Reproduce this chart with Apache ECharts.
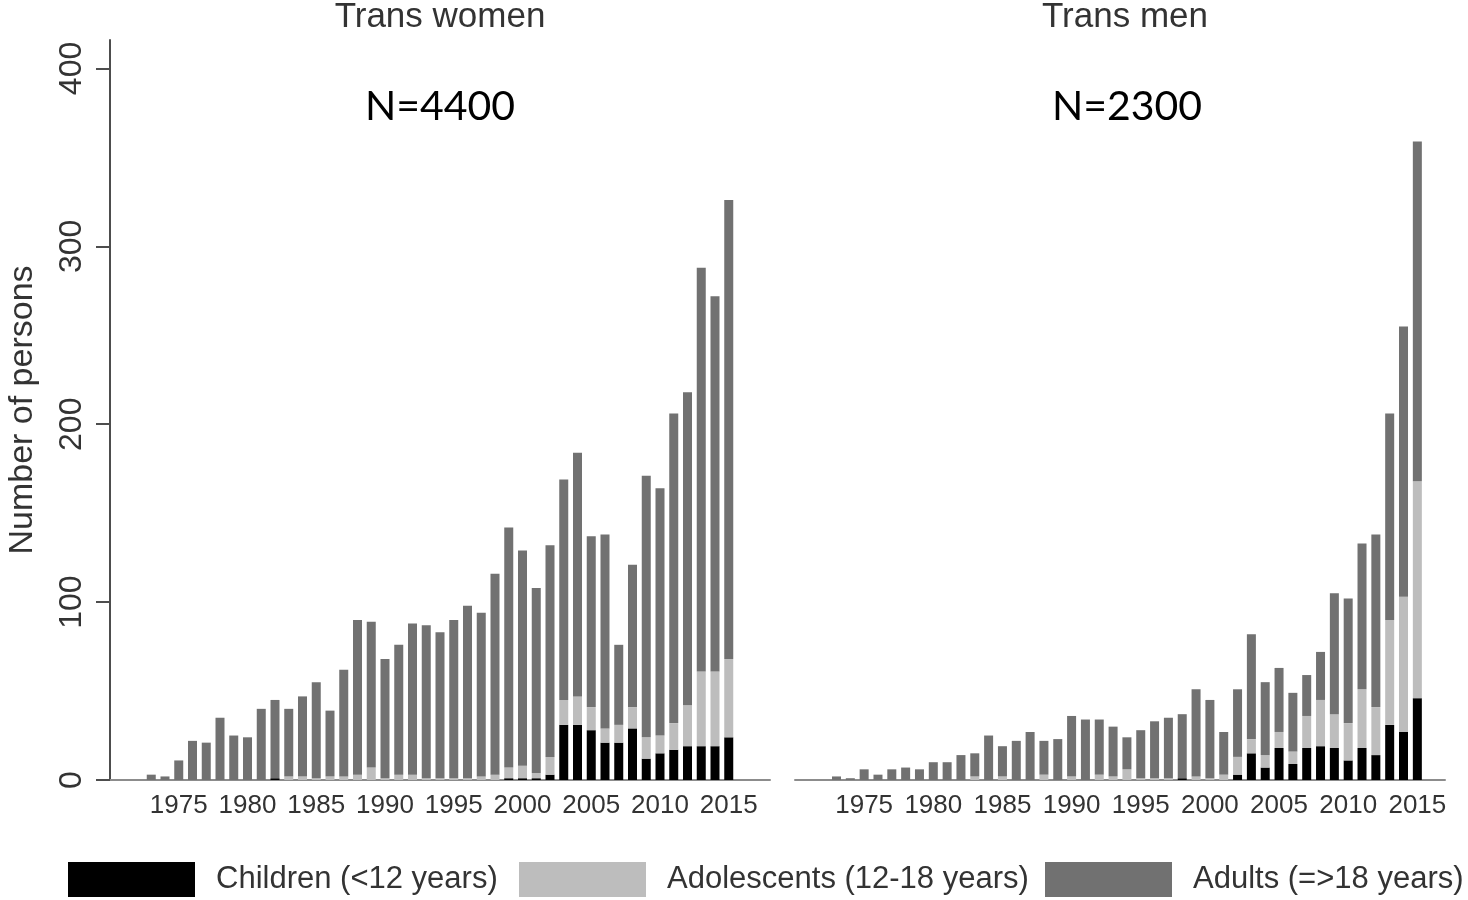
<!DOCTYPE html>
<html>
<head>
<meta charset="utf-8">
<script src="https://cdn.jsdelivr.net/npm/echarts@6/dist/echarts.min.js"></script>
<style>
  html, body { margin: 0; padding: 0; background: #fff; }
  #chart { width: 1468px; height: 900px; }
</style>
</head>
<body>
<div id="chart"></div>
<script>
// Years shown along each x axis (bars only exist from 1973 on)
const axisYears = ['1970', '1971', '1972', '1973', '1974', '1975', '1976', '1977', '1978', '1979',
  '1980', '1981', '1982', '1983', '1984', '1985', '1986', '1987', '1988', '1989',
  '1990', '1991', '1992', '1993', '1994', '1995', '1996', '1997', '1998', '1999',
  '2000', '2001', '2002', '2003', '2004', '2005', '2006', '2007', '2008', '2009',
  '2010', '2011', '2012', '2013', '2014', '2015', '2016', '2017', '2018'];

// Registration year of each bar
const years = ['1973', '1974', '1975', '1976', '1977', '1978', '1979', '1980', '1981', '1982',
  '1983', '1984', '1985', '1986', '1987', '1988', '1989', '1990', '1991', '1992',
  '1993', '1994', '1995', '1996', '1997', '1998', '1999', '2000', '2001', '2002',
  '2003', '2004', '2005', '2006', '2007', '2008', '2009', '2010', '2011', '2012',
  '2013', '2014', '2015'];

// Trans women, persons per year by age group
const womenChildren = [0, 0, 0, 0, 0, 0, 0, 0, 0, 1,
  0, 0, 0, 0, 0, 0, 0, 0, 0, 0,
  0, 0, 0, 0, 0, 0, 1, 1, 1, 3,
  31, 31, 28, 21, 21, 29, 12, 15, 17, 19,
  19, 19, 24];
const womenAdolescents = [0, 0, 0, 0, 0, 0, 0, 0, 0, 0,
  2, 2, 1, 2, 2, 3, 7, 1, 3, 3,
  1, 1, 1, 1, 2, 3, 6, 7, 3, 10,
  14, 16, 13, 8, 10, 12, 12, 10, 15, 23,
  42, 42, 44];
const womenAdults = [3, 2, 11, 22, 21, 35, 25, 24, 40, 44,
  38, 45, 54, 37, 60, 87, 82, 67, 73, 85,
  86, 82, 89, 97, 92, 113, 135, 121, 104, 119,
  124, 137, 96, 109, 45, 80, 147, 139, 174, 176,
  227, 211, 258];

// Trans men, persons per year by age group
const menChildren = [0, 0, 0, 0, 0, 0, 0, 0, 0, 0,
  0, 0, 0, 0, 0, 0, 0, 0, 0, 0,
  0, 0, 0, 0, 0, 1, 0, 0, 0, 3,
  15, 7, 18, 9, 18, 19, 18, 11, 18, 14,
  31, 27, 46];
const menAdolescents = [0, 0, 0, 0, 0, 0, 0, 0, 0, 0,
  2, 0, 2, 0, 0, 3, 0, 2, 0, 3,
  2, 6, 1, 1, 1, 0, 2, 1, 3, 10,
  8, 7, 9, 7, 18, 26, 19, 21, 33, 27,
  59, 76, 122];
const menAdults = [2, 1, 6, 3, 6, 7, 6, 10, 10, 14,
  13, 25, 17, 22, 27, 19, 23, 34, 34, 31,
  28, 18, 27, 32, 34, 36, 49, 44, 24, 38,
  59, 41, 36, 33, 23, 27, 68, 70, 82, 97,
  116, 152, 191];

const yearTicks = ['1975', '1980', '1985', '1990', '1995', '2000', '2005', '2010', '2015'];
const countTicks = [0, 100, 200, 300, 400];

const groupNames = ['Children (<12 years)', 'Adolescents (12-18 years)', 'Adults (=>18 years)'];
const groupColors = ['#000000', '#bdbdbd', '#717171'];

const FONT = '"Liberation Sans", Arial, sans-serif';
const TEXT = '#333333';

function pairs(values) {
  return years.map((y, i) => [y, values[i]]);
}

function xAxisFor(gridIndex, categories) {
  return {
    type: 'category',
    gridIndex: gridIndex,
    data: categories,
    boundaryGap: false,
    splitLine: { show: false },
    axisTick: { show: false },
    axisLine: { show: true, onZero: false, lineStyle: { color: '#8c8c8c', width: 2 } },
    axisLabel: {
      interval: (index, value) => yearTicks.indexOf(value) >= 0,
      fontFamily: FONT,
      fontSize: 26,
      color: TEXT,
      margin: 13
    }
  };
}

function barSeries(name, values, color, stack, axisIndex) {
  return {
    type: 'bar',
    name: name,
    stack: stack,
    xAxisIndex: axisIndex,
    yAxisIndex: axisIndex,
    barWidth: 9,
    itemStyle: { color: color },
    data: pairs(values)
  };
}

function legendFor(i, left) {
  return {
    left: left,
    top: 862,
    padding: 0,
    icon: 'rect',
    itemWidth: 127,
    itemHeight: 35,
    data: [groupNames[i]],
    textStyle: {
      fontFamily: FONT,
      fontSize: 31,
      color: TEXT,
      padding: [0, 0, 0, 16]
    }
  };
}

const chart = echarts.init(document.getElementById('chart'));
chart.setOption({
  animation: false,
  backgroundColor: '#ffffff',
  grid: [
    { left: 110, top: 40, width: 660, height: 740 },
    { left: 795, top: 40, width: 650, height: 740 }
  ],
  xAxis: [xAxisFor(0, axisYears), xAxisFor(1, axisYears.slice(0, 48))],
  yAxis: [
    {
      type: 'value',
      gridIndex: 0,
      min: 0,
      max: 416,
      splitLine: { show: false },
      axisLine: { show: true, lineStyle: { color: '#4d4d4d', width: 2 } },
      axisTick: {
        show: true,
        length: 14,
        customValues: countTicks,
        lineStyle: { color: '#4d4d4d', width: 2 }
      },
      axisLabel: {
        customValues: countTicks,
        rotate: 90,
        margin: 22,
        fontFamily: FONT,
        fontSize: 32,
        color: TEXT
      },
      name: 'Number of persons',
      nameLocation: 'middle',
      nameRotate: 90,
      nameGap: 70,
      nameTextStyle: { fontFamily: FONT, fontSize: 34, color: TEXT }
    },
    { type: 'value', gridIndex: 1, min: 0, max: 416, show: false, splitLine: { show: false } }
  ],
  legend: [legendFor(0, 68), legendFor(1, 519), legendFor(2, 1045)],
  graphic: [
    { type: 'text', x: 440, y: 17, style: { text: 'Trans women', font: '35px ' + FONT, fill: TEXT, textAlign: 'center', textVerticalAlign: 'middle' } },
    { type: 'text', x: 1125, y: 17, style: { text: 'Trans men', font: '35px ' + FONT, fill: TEXT, textAlign: 'center', textVerticalAlign: 'middle' } },
    { type: 'text', x: 440, y: 107, style: { text: 'N=4400', font: '41px Lato, "Open Sans", sans-serif', fill: '#000000', textAlign: 'center', textVerticalAlign: 'middle' } },
    { type: 'text', x: 1127, y: 107, style: { text: 'N=2300', font: '41px Lato, "Open Sans", sans-serif', fill: '#000000', textAlign: 'center', textVerticalAlign: 'middle' } }
  ],
  series: [
    barSeries(groupNames[0], womenChildren, groupColors[0], 'women', 0),
    barSeries(groupNames[1], womenAdolescents, groupColors[1], 'women', 0),
    barSeries(groupNames[2], womenAdults, groupColors[2], 'women', 0),
    barSeries(groupNames[0], menChildren, groupColors[0], 'men', 1),
    barSeries(groupNames[1], menAdolescents, groupColors[1], 'men', 1),
    barSeries(groupNames[2], menAdults, groupColors[2], 'men', 1)
  ]
});
</script>
</body>
</html>
